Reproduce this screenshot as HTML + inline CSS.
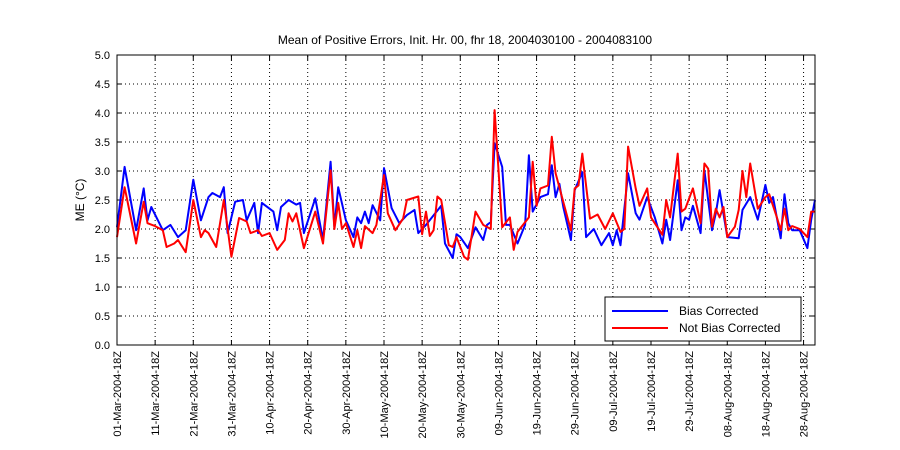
<!DOCTYPE html>
<html><head><meta charset="utf-8"><style>
html,body{margin:0;padding:0;background:#fff;}
svg{display:block;font-family:"Liberation Sans",sans-serif;}
</style></head><body>
<svg id="chart" width="900" height="450" viewBox="0 0 900 450" xmlns="http://www.w3.org/2000/svg">
<rect width="900" height="450" fill="#fff"/>
<text x="465" y="44" font-size="12" text-anchor="middle">Mean of Positive Errors, Init. Hr. 00, fhr 18, 2004030100 - 2004083100</text>
<text transform="translate(84,200) rotate(-90)" font-size="12" text-anchor="middle">ME (°C)</text>
<g id="grid"></g><g id="ticks"></g><g id="series"></g>
<rect x="117" y="55" width="698" height="290" fill="none" stroke="#000" stroke-width="1"/>
<g>
<rect x="605" y="297" width="196" height="44" fill="#fff" stroke="#000"/>
<line x1="612" y1="311" x2="668" y2="311" stroke="#0000ff" stroke-width="2"/>
<text x="679" y="315" font-size="12">Bias Corrected</text>
<line x1="612" y1="328" x2="668" y2="328" stroke="#ff0000" stroke-width="2"/>
<text x="679" y="332" font-size="12">Not Bias Corrected</text>
</g>
</svg>
<script>
const tickLabels=["01-Mar-2004-18Z","11-Mar-2004-18Z","21-Mar-2004-18Z","31-Mar-2004-18Z","10-Apr-2004-18Z","20-Apr-2004-18Z","30-Apr-2004-18Z","10-May-2004-18Z","20-May-2004-18Z","30-May-2004-18Z","09-Jun-2004-18Z","19-Jun-2004-18Z","29-Jun-2004-18Z","09-Jul-2004-18Z","19-Jul-2004-18Z","29-Jul-2004-18Z","08-Aug-2004-18Z","18-Aug-2004-18Z","28-Aug-2004-18Z"];
const tickDays=[0,10,20,30,40,50,60,70,80,90,100,110,120,130,140,150,160,170,180];
const yTicks=[0,0.5,1,1.5,2,2.5,3,3.5,4,4.5,5];
const blueDays=[0,2,5,7,8,9,12,14,16,18,20,22,24,25,27,28,29,31,33,34,36,37,38,41,42,43,45,47,48,49,52,54,56,57,58,60,62,63,64,65,66,67,69,70,72,74,76,78,79,81,85,86,88,89,90,92,94,96,97,98,99,101,102,103,105,107,108,109,111,113,114,115,116,117,119,120,122,123,125,127,129,130,131,132,134,136,137,139,141,143,144,145,147,148,149,150,151,153,154,156,157,158,160,163,164,166,168,170,171,172,174,175,176,177,179,181,182,183];
const blueVals=[2.03,3.07,1.98,2.7,2.15,2.38,1.98,2.07,1.86,1.98,2.85,2.15,2.55,2.62,2.55,2.72,1.93,2.47,2.5,2.15,2.45,1.93,2.45,2.3,1.98,2.38,2.5,2.42,2.45,1.93,2.53,1.81,3.16,2.03,2.72,2.15,1.86,2.2,2.1,2.3,2.1,2.41,2.15,3.05,2.36,2.1,2.24,2.33,1.93,2.07,2.4,1.75,1.5,1.91,1.86,1.67,2.03,1.81,2.07,2.12,3.48,3.07,2.07,2.07,1.75,2.07,3.27,2.3,2.55,2.6,3.1,2.55,2.78,2.38,1.81,2.67,2.98,1.86,2.0,1.72,1.93,1.72,1.98,1.72,2.96,2.27,2.16,2.55,2.2,1.75,2.16,1.81,2.84,1.98,2.2,2.16,2.4,1.93,3.01,1.98,2.27,2.67,1.86,1.84,2.33,2.55,2.16,2.76,2.45,2.55,1.84,2.6,2.1,1.98,1.98,1.67,2.16,2.5];
const redDays=[0,2,5,7,8,10,12,13,15,16,18,20,22,23,24,26,28,30,32,34,35,37,38,40,42,44,45,46,47,49,52,54,56,57,58,59,60,62,63,64,65,67,68,70,71,73,75,76,79,80,81,82,83,84,85,87,88,89,91,92,94,96,98,99,101,103,104,105,108,109,110,111,113,114,115,119,120,121,122,124,126,128,130,132,133,134,136,137,139,140,143,144,145,147,148,149,151,153,154,155,156,157,158,159,160,162,163,164,165,166,168,170,171,173,174,175,176,177,179,181,182,183];
const redVals=[1.86,2.72,1.75,2.47,2.1,2.05,1.98,1.69,1.75,1.81,1.6,2.5,1.86,1.98,1.93,1.69,2.5,1.52,2.19,2.13,1.93,1.98,1.88,1.93,1.64,1.81,2.27,2.13,2.27,1.67,2.3,1.75,3.01,2.0,2.45,2.0,2.1,1.69,1.98,1.67,2.05,1.93,2.07,2.93,2.27,1.98,2.18,2.5,2.56,1.91,2.3,1.88,1.98,2.56,2.5,1.72,1.69,1.86,1.52,1.47,2.3,2.07,2.0,4.05,2.03,2.2,1.64,1.95,2.2,3.16,2.4,2.7,2.75,3.59,2.96,1.98,2.7,2.75,3.3,2.18,2.25,2.0,2.27,1.95,2.0,3.42,2.7,2.4,2.7,2.2,1.9,2.5,2.2,3.3,2.3,2.35,2.7,2.1,3.13,3.04,2.04,2.35,2.2,2.38,1.86,2.04,2.33,3.0,2.55,3.13,2.35,2.55,2.6,2.2,1.98,2.35,1.98,2.05,2.0,1.86,2.3,2.3];

const NS="http://www.w3.org/2000/svg";
const X0=117,X1=815,Y0=345,Y1=55,DAYS=183,YMAX=5;
const xs=d=>X0+d*(X1-X0)/DAYS;
const ys=v=>Y0-v*(Y0-Y1)/YMAX;
function mk(tag,attrs,parent){const e=document.createElementNS(NS,tag);for(const k in attrs)e.setAttribute(k,attrs[k]);parent.appendChild(e);return e;}
const grid=document.getElementById('grid'),ticks=document.getElementById('ticks'),series=document.getElementById('series');
yTicks.forEach(v=>{
  const y=ys(v);
  if(v>0&&v<YMAX){const g=mk('line',{x1:X0,x2:X1,y1:y,y2:y,stroke:'#000','stroke-width':1,'stroke-dasharray':'1,3'},grid);
  
  }
  const t=mk('text',{x:110,y:y+4,'font-size':11,'text-anchor':'end'},ticks);t.textContent=v.toFixed(1);
  
  
  mk('line',{x1:X0,x2:X0+5,y1:y,y2:y,stroke:'#000'},ticks);
  mk('line',{x1:X1,x2:X1-5,y1:y,y2:y,stroke:'#000'},ticks);
});
tickDays.forEach((d,i)=>{
  const x=xs(d);
  if(d>0){const g=mk('line',{x1:x,x2:x,y1:Y0,y2:Y1,stroke:'#000','stroke-width':1,'stroke-dasharray':'1,3'},grid);
  
  }
  mk('line',{x1:x,x2:x,y1:Y0,y2:Y0-5,stroke:'#000'},ticks);
  mk('line',{x1:x,x2:x,y1:Y1,y2:Y1+5,stroke:'#000'},ticks);
  const t=mk('text',{transform:`translate(${x+4},${Y0+6}) rotate(-90)`,'font-size':11,'text-anchor':'end'},ticks);
  t.textContent=tickLabels[i];
  
  
});
function line(days,vals,color,name){
  const pts=days.map((d,i)=>xs(d).toFixed(1)+','+ys(vals[i]).toFixed(1)).join(' ');
  const p=mk('polyline',{points:pts,fill:'none',stroke:color,'stroke-width':2,'stroke-linejoin':'round'},series);
  
  
}
line(blueDays,blueVals,'#0000ff','bias-corrected-line');
line(redDays,redVals,'#ff0000','not-bias-corrected-line');
</script>
</body></html>
